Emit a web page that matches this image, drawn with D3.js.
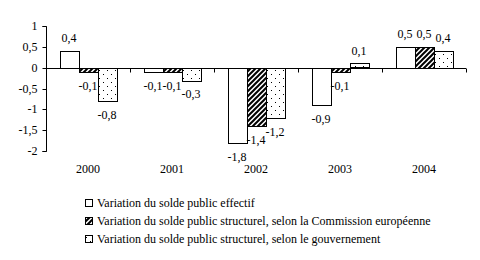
<!DOCTYPE html>
<html>
<head>
<meta charset="utf-8">
<script src="https://cdn.jsdelivr.net/npm/d3@7"></script>
<style>
  body { margin: 0; background: #fff; }
</style>
</head>
<body>
<div id="chart-container"></div>
<script>
// Data
const years = ["2000", "2001", "2002", "2003", "2004"];
const seriesNames = [
  "Variation du solde public effectif",
  "Variation du solde public structurel, selon la Commission européenne",
  "Variation du solde public structurel, selon le gouvernement"
];
const effectif = [0.4, -0.1, -1.8, -0.9, 0.5];
const commission = [-0.1, -0.1, -1.4, -0.1, 0.5];
const gouvernement = [-0.8, -0.3, -1.2, 0.1, 0.4];
const yTicks = [1, 0.5, 0, -0.5, -1, -1.5, -2];

const fills = ["#fff", "url(#hatch)", "url(#dots)"];
const allSeries = [effectif, commission, gouvernement];
const fmt = v => String(v).replace(".", ",");
const FONT = "'Liberation Serif'";

const svgWidth = 480, svgHeight = 260;

const svg = d3.select("#chart-container")
  .append("svg")
  .attr("width", svgWidth)
  .attr("height", svgHeight);

// patterns
const defs = svg.append("defs");
const hatch = defs.append("pattern")
  .attr("id", "hatch")
  .attr("patternUnits", "userSpaceOnUse")
  .attr("width", 5).attr("height", 5);
hatch.append("rect").attr("width", 5).attr("height", 5).attr("fill", "#fff");
hatch.append("path")
  .attr("d", "M-1,1 l2,-2 M0,5 l5,-5 M4,6 l2,-2")
  .attr("stroke", "#000").attr("stroke-width", 2);

const dots = defs.append("pattern")
  .attr("id", "dots")
  .attr("patternUnits", "userSpaceOnUse")
  .attr("width", 8).attr("height", 8);
dots.append("rect").attr("width", 8).attr("height", 8).attr("fill", "#fff");
dots.append("rect").attr("x", 1).attr("y", 2).attr("width", 1).attr("height", 1).attr("fill", "#000");
dots.append("rect").attr("x", 5).attr("y", 6).attr("width", 1).attr("height", 1).attr("fill", "#000");

// scales
const x0 = d3.scaleBand().domain(years).range([46, 466]).padding(0);
const x1 = d3.scaleBand().domain(d3.range(3)).range([13.5, 70.5]);
const y = d3.scaleLinear().domain([-2, 1]).range([151, 26]);

// y axis
const yAxis = svg.append("g")
  .attr("transform", "translate(46.5,0)")
  .call(d3.axisLeft(y).tickValues(yTicks).tickSize(4).tickPadding(5).tickFormat(fmt));
yAxis.attr("font-family", null).attr("font-size", null);
yAxis.select(".domain").attr("stroke", "#000").attr("d", `M-4,${y(1) + 0.5}H0V${y(-2) + 0.5}H-4`);
yAxis.selectAll(".tick line").attr("stroke", "#000");
yAxis.selectAll(".tick").attr("transform", d => `translate(0,${Math.round(y(d)) + 0.5})`);
yAxis.selectAll("text").style("font-size", "12px").style("font-family", FONT).attr("fill", "#000");

// bars
const groups = svg.selectAll("g.year")
  .data(years)
  .join("g")
  .attr("class", "year")
  .attr("transform", d => `translate(${x0(d)},0)`);

allSeries.forEach((vals, s) => {
  groups.append("rect")
    .attr("x", (d, i) => Math.round(x1(s)) + 0.5)
    .attr("y", (d, i) => Math.round(y(Math.max(0, vals[i]))) + 0.5)
    .attr("width", Math.round(x1.bandwidth()))
    .attr("height", (d, i) => Math.round(Math.abs(y(vals[i]) - y(0))))
    .attr("fill", fills[s])
    .attr("stroke", "#000")
    .attr("stroke-width", 1);

  groups.append("text")
    .text((d, i) => fmt(vals[i]))
    .attr("x", x1(s) + x1.bandwidth() / 2)
    .attr("y", (d, i) => vals[i] >= 0 ? y(vals[i]) - 9 : y(vals[i]) + 18)
    .attr("text-anchor", "middle")
    .style("font-family", FONT)
    .style("font-size", "12px");
});

// category axis (zero line)
const xAxis = svg.append("g")
  .attr("transform", `translate(0,${Math.round(y(0)) + 0.5})`);
xAxis.append("line").attr("x1", 46).attr("x2", 466).attr("stroke", "#000");
xAxis.selectAll("line.tk")
  .data(years.map(d => x0(d) + x0.bandwidth()))
  .join("line")
  .attr("class", "tk")
  .attr("x1", d => d + 0.5).attr("x2", d => d + 0.5)
  .attr("y1", 0).attr("y2", 4)
  .attr("stroke", "#000");

svg.selectAll("text.yr")
  .data(years)
  .join("text")
  .attr("class", "yr")
  .attr("x", d => x0(d) + x0.bandwidth() / 2)
  .attr("y", 173)
  .attr("text-anchor", "middle")
  .style("font-family", FONT)
  .style("font-size", "12px")
  .text(d => d);

// legend
const legend = svg.selectAll("g.leg")
  .data(seriesNames)
  .join("g")
  .attr("class", "leg")
  .attr("transform", (d, i) => `translate(85,${199 + i * 18})`);
legend.append("rect")
  .attr("x", 0.5).attr("y", 0.5)
  .attr("width", 7).attr("height", 7)
  .attr("fill", (d, i) => fills[i])
  .attr("stroke", "#000");
legend.append("text")
  .attr("x", 12).attr("y", 8)
  .style("font-family", FONT)
  .style("font-size", "12px")
  .text(d => d);
</script>
</body>
</html>
